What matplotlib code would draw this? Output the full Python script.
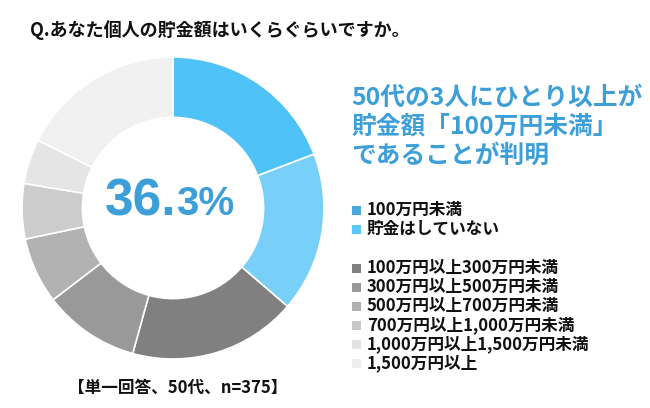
import matplotlib
matplotlib.use('Agg')
import matplotlib.pyplot as plt
from matplotlib.patches import Rectangle

plt.rcParams['font.family'] = ['Noto Sans CJK JP', 'DejaVu Sans']

# データ（円グラフ、時計回り・12時から）
labels = ['100万円未満', '貯金はしていない',
          '100万円以上300万円未満', '300万円以上500万円未満', '500万円以上700万円未満',
          '700万円以上1,000万円未満', '1,000万円以上1,500万円未満', '1,500万円以上']
values = [19.2, 17.1, 18.0, 10.3, 7.1, 5.9, 4.8, 17.6]
pie_colors = ['#4FC3F7', '#78D0F8', '#808080', '#999999', '#B2B2B2', '#CCCCCC', '#E5E5E5', '#F1F1F1']
legend_colors = ['#4AA8DA', '#5CC8F8', '#808080', '#999999', '#B0B0B0', '#C8C8C8', '#E2E2E2', '#EEEEEE']

title = 'Q.あなた個人の貯金額はいくらぐらいですか。'
headline = ['50代の3人にひとり以上が', '貯金額「100万円未満」', 'であることが判明']
center_big = '36.'
center_small = '3%'
note = '【単一回答、50代、n=375】'

W, H = 650, 408
blue = '#3E9FD8'

fig = plt.figure(figsize=(W / 100, H / 100), dpi=100)
fig.patch.set_facecolor('white')

# ドーナツ
cx, cy, R = 173, 208, 151
box = 155
ax = fig.add_axes([(cx - box) / W, (H - cy - box) / H, 2 * box / W, 2 * box / H])
ax.pie(values, colors=pie_colors, startangle=90, counterclock=False, radius=1,
       wedgeprops=dict(width=0.4, edgecolor='white', linewidth=1.2))
ax.set_xlim(-box / R, box / R)
ax.set_ylim(-box / R, box / R)
ax.set_aspect('equal')
ax.axis('off')

# 中央の数字
fig.text(176 / W, 1 - 215 / H, center_big, ha='right', va='baseline', color=blue,
         fontsize=37, fontweight='bold', family=['Liberation Sans'])
fig.text(176 / W, 1 - 215 / H, center_small, ha='left', va='baseline', color=blue,
         fontsize=29, fontweight='bold', family=['Liberation Sans'])

# タイトル
fig.text(30 / W, 1 - 30 / H, title, ha='left', va='center', fontsize=13, fontweight='bold', color='#111111')

# 見出し
for i, line in enumerate(headline):
    fig.text(351 / W, 1 - (98 + 29 * i) / H, line, ha='left', va='center',
             fontsize=17.8, fontweight='bold', color=blue)

# 凡例
rows = [210, 229, 268, 287, 306, 325, 344, 363]
for lab, col, y in zip(labels, legend_colors, rows):
    fig.add_artist(Rectangle((352 / W, 1 - (y + 4.5) / H), 9 / W, 9 / H,
                             transform=fig.transFigure, facecolor=col, edgecolor='none'))
    fig.text(367 / W, 1 - y / H, lab, ha='left', va='center', fontsize=12,
             fontweight='bold', color='#111111')

# 注記
fig.text(68 / W, 1 - 388 / H, note, ha='left', va='center', fontsize=12, fontweight='bold', color='#111111')

fig.savefig('out.png', dpi=100, facecolor='white')
